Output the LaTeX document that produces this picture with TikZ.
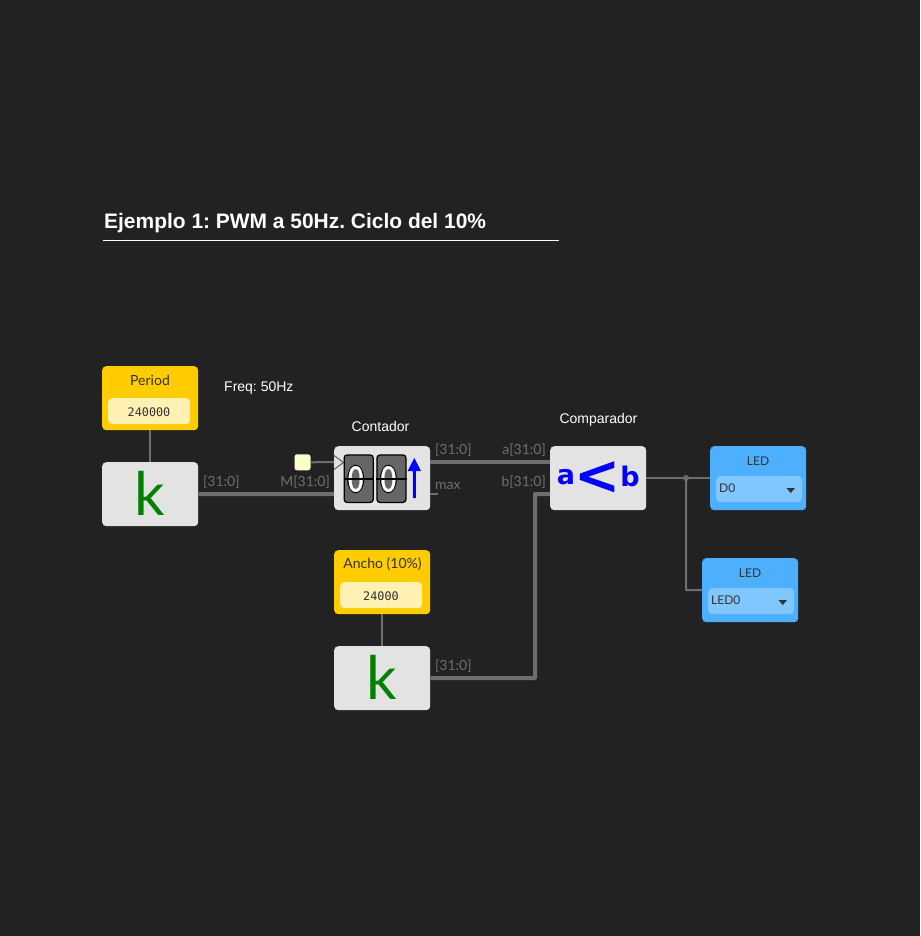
\documentclass[tikz,border=0pt]{standalone}
\usepackage{graphicx}
\usepackage{fontspec}
\setmainfont{Lato}
\newfontfamily\titlefont{Liberation Sans}
\newfontfamily\monofont{DejaVu Sans Mono}
\newfontfamily\symfont{DejaVu Sans}
\newfontfamily\digitfont[FakeBold=0.8]{DejaVu Sans}
\frenchspacing
\definecolor{bgc}{HTML}{222222}
\definecolor{wirec}{HTML}{6E6E6E}
\definecolor{labelc}{HTML}{6E6E6E}
\definecolor{blockc}{HTML}{E3E3E3}
\definecolor{inputc}{HTML}{FFCC00}
\definecolor{inputin}{HTML}{FFF0B3}
\definecolor{ledc}{HTML}{4DB0FF}
\definecolor{ledin}{HTML}{80C6FF}
\definecolor{darktxt}{HTML}{333333}
\definecolor{digitc}{HTML}{666666}
\definecolor{sq}{HTML}{FFFFCC}
\definecolor{kgreen}{HTML}{008000}
\tikzset{
  x=1pt,y=-1pt,
  plainbox/.style={minimum width=96pt,minimum height=64pt,inner sep=0pt,rounded corners=4pt,anchor=north west,draw=none},
  block/.style={plainbox,fill=blockc},
  constbox/.style={plainbox,fill=inputc},
  ledbox/.style={plainbox,fill=ledc},
  field/.style={inner sep=0pt,rounded corners=4pt,anchor=north west,minimum height=26pt},
  constfield/.style={field,fill=inputin,minimum width=82pt},
  constval/.style={text=darktxt,font=\monofont\fontsize{11.8}{12}\selectfont,inner sep=0pt},
  ledfield/.style={field,fill=ledin,minimum width=86pt},
  head/.style={text=darktxt,font=\fontsize{14}{14}\selectfont,inner sep=0pt},
  ledhead/.style={text=darktxt,font=\fontsize{12}{12}\selectfont,inner sep=0pt},
  ledval/.style={text=darktxt,font=\fontsize{12}{12}\selectfont,inner sep=0pt,anchor=west},
  portlabel/.style={text=labelc,font=\fontsize{14}{14}\selectfont,inner sep=0pt},
  white label/.style={text=white,font=\titlefont\fontsize{14}{14}\selectfont,inner sep=0pt},
  bus/.style={draw=wirec,line width=4pt,line join=round},
  thinwire/.style={draw=wirec,line width=2pt,line join=round},
  kletter/.style={text=kgreen,font=\fontsize{60}{60}\selectfont,inner sep=0pt},
  cmp/.style={text=blue,font=\symfont\bfseries\fontsize{27}{27}\selectfont,inner sep=0pt},
  digitbox/.style={fill=digitc,draw=black,line width=1.3pt,rounded corners=3pt,inner sep=0pt,minimum width=29pt,minimum height=47.5pt,anchor=north west},
  digit/.style={text=white,font=\digitfont\fontsize{34}{34}\selectfont,inner sep=0pt},
  halo/.style={draw=black,line width=1.1pt},
  pin/.style={inner sep=0pt,minimum size=0pt,outer sep=0pt},
  caret/.style={fill=darktxt,draw=none},
}
\begin{document}
\begin{tikzpicture}
\useasboundingbox[fill=bgc] (0,0) rectangle (920,936);

% title
\node[text=white,font=\titlefont\bfseries\fontsize{20.95}{21}\selectfont,inner sep=0pt,anchor=base west] (title) at (104,228.5) {Ejemplo 1: PWM a 50Hz. Ciclo del 10\%};
\coordinate (ruleA) at (103,240.5);
\coordinate (ruleB) at (559,240.5);
\draw[white,line width=1pt] (ruleA) -- (ruleB);

% ports / free ends
\coordinate (cmclk) at (334,462);
\coordinate (cmin) at (334,494);
\coordinate (cmout) at (430,462);
\coordinate (cmmax) at (430,494);
\coordinate (maxend) at (438,494);
\coordinate (cpa) at (550,462);
\coordinate (cpb) at (550,494);
\coordinate (bend1) at (535,678);
\coordinate (bend2) at (535,494);
\coordinate (jn) at (686,478);
\coordinate (bend3) at (686,590);

% blocks
\node[constbox] (period) at (102,366) {};
\node[constfield] (periodf) at (108,398) {};
\node[constval] (periodval) at (149,412) {240000};
\node[head] (periodt) at (150,380.5) {Period};
\node[block] (k1) at (102,462) {};
\node[block] (cont) at (334,446) {};
\node[block] (comp) at (550,446) {};
\node[constbox] (ancho) at (334,550) {};
\node[constfield] (anchof) at (340,582) {};
\node[constval] (anchoval) at (381,596) {24000};
\node[head] (anchot) at (382.5,564.5) {Ancho (10\%)};
\node[block] (k2) at (334,646) {};
\node[ledbox] (led1) at (710,446) {};
\node[ledfield] (led1f) at (716,476) {};
\node[ledhead] (led1t) at (758,461) {LED};
\node[ledval] (led1v) at (719,488) {D0};
\node[ledbox] (led2) at (702,558) {};
\node[ledfield] (led2f) at (708,588) {};
\node[ledhead] (led2t) at (750,573) {LED};
\node[ledval] (led2v) at (711,600) {LED0};
\fill[caret] (786.5,488) -- (795,488) -- (790.75,493) -- cycle;
\fill[caret] (778.5,600) -- (787,600) -- (782.75,605) -- cycle;

\node[pin,minimum size=16pt,fill=sq,rounded corners=2.5pt] (clk) at (302.5,462.3) {};

% wires
\draw[thinwire] (period.south) -- (k1.north);
\draw[thinwire] (ancho.south) -- (k2.north);
\draw[bus] (k1.east) -- (cmin);
\draw[thinwire] (clk.east) -- (cmclk);
\draw[bus] (cmout) -- (cpa);
\draw[thinwire] (cmmax) -- (maxend);
\draw[bus] (k2.east) -- (bend1) -- (bend2) -- (cpb);
\draw[thinwire] (comp.east) -- (led1.west);
\draw[thinwire] (jn) -- (bend3) -- (led2.west);
\fill[wirec] (jn) circle (3pt);

% block contents
\node[kletter] (kl1) at (149.5,493.5) {k};
\node[kletter] (kl2) at (381.5,677.5) {k};

\draw[wirec,line width=1.2pt,line join=miter] (334,455.5) -- (343.5,462.5) -- (334,469.5);
\node[digitbox] (d1) at (343.5,454.3) {};
\node[digitbox] (d2) at (376.3,454.3) {};
\draw[halo] (355.7,479) ellipse (7.9pt and 13.8pt);
\draw[halo] (388.4,479) ellipse (7.9pt and 13.8pt);
\node[digit] (d1t) at (355.7,479) {\scalebox{0.8}[1]{0}};
\node[digit] (d2t) at (388.4,479) {\scalebox{0.8}[1]{0}};
\draw[black,line width=1.6pt] (d1.west) -- (d1.east);
\draw[black,line width=1.6pt] (d2.west) -- (d2.east);
\fill[blue] (414.3,458) -- (421,471) -- (415.8,471) -- (415.8,498) -- (412.8,498) -- (412.8,471) -- (407.6,471) -- cycle;

\node[cmp] (ca) at (566,477) {a};
\node[cmp] (cb) at (630,476) {b};
\node[text=blue,font=\symfont\bfseries\fontsize{55}{55}\selectfont,inner sep=0pt] (clt) at (597.5,478) {<};

% labels
\node[white label,anchor=base west] (freq) at (224,391) {Freq: 50Hz};
\node[white label,anchor=base] (contl) at (380.5,431) {Contador};
\node[white label,anchor=base] (compl) at (598.5,423) {Comparador};
\node[portlabel,anchor=base west] (l1) at (203,486) {[31:0]};
\node[portlabel,anchor=base east] (l2) at (330,486) {M[31:0]};
\node[portlabel,anchor=base west] (l3) at (435,454) {[31:0]};
\node[portlabel,anchor=base west] (l4) at (435,489) {max};
\node[portlabel,anchor=base east] (l5) at (546,454) {a[31:0]};
\node[portlabel,anchor=base east] (l6) at (546,486) {b[31:0]};
\node[portlabel,anchor=base west] (l7) at (435,670) {[31:0]};
\end{tikzpicture}
\end{document}
